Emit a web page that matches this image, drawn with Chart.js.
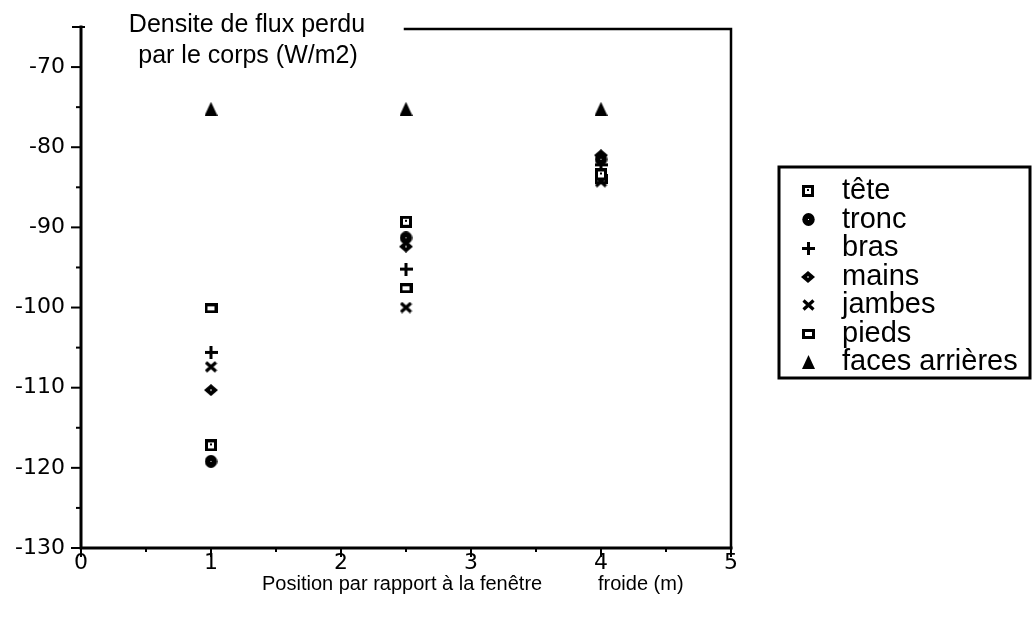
<!DOCTYPE html>
<html><head><meta charset="utf-8">
<script src="https://cdn.jsdelivr.net/npm/chart.js@4/dist/chart.umd.min.js"></script>
<style>html,body{margin:0;padding:0;background:#fff}canvas{display:block}</style>
</head><body>
<canvas id="c" width="1036" height="629"></canvas>
<script>
// ---- data ----
const positions = [1, 2.5, 4];
const seriesNames = ['tête', 'tronc', 'bras', 'mains', 'jambes', 'pieds', 'faces arrières'];
const tete = [-117.2, -89.3, -83.4];
const tronc = [-119.2, -91.3, -81.5];
const bras = [-105.6, -95.2, -82.2];
const mains = [-110.3, -92.4, -81.0];
const jambes = [-107.4, -100.0, -84.3];
const pieds = [-100.1, -97.6, -84.0];
const facesArrieres = [-75.2, -75.2, -75.2];
const xTickValues = [0, 0.5, 1, 1.5, 2, 2.5, 3, 3.5, 4, 4.5, 5];
const yTickValues = [-130, -125, -120, -115, -110, -105, -100, -95, -90, -85, -80, -75, -70, -65];
const titleLines = ['Densite de flux perdu', 'par le corps (W/m2)'];
const xTitleParts = ['Position par rapport à la fenêtre', 'froide (m)'];

const FONT = '"Liberation Sans", Arial, Helvetica, sans-serif';
const TICKFONT = '"DejaVu Sans", "Liberation Sans", sans-serif';

// ---- marker glyphs ----
function mk(w, h, draw) {
  const c = document.createElement('canvas');
  c.width = w; c.height = h;
  const g = c.getContext('2d');
  g.fillStyle = '#000'; g.strokeStyle = '#000';
  draw(g);
  return c;
}
const mTete = mk(12, 12, g => { g.fillRect(0, 0, 12, 12); g.fillStyle = '#fff'; g.fillRect(3, 3, 6, 6); g.fillStyle = '#000'; g.fillRect(5, 4, 2, 2); });
const mTronc = mk(13, 13, g => { g.beginPath(); g.ellipse(6.5, 6.5, 6.2, 6.5, 0, 0, 2 * Math.PI); g.fill(); g.fillStyle = '#fff'; g.fillRect(6, 6, 1, 1); });
const mBras = mk(13, 13, g => { g.fillRect(0, 5, 13, 3); g.fillRect(5, 0, 3, 13); });
const mMains = mk(14, 12, g => { g.beginPath(); g.moveTo(7, 0); g.lineTo(14, 6); g.lineTo(7, 12); g.lineTo(0, 6); g.closePath(); g.fill(); g.fillStyle = '#fff'; g.fillRect(6, 5.5, 2, 1); });
const mJambes = mk(13, 12, g => { g.lineWidth = 3.2; g.beginPath(); g.moveTo(1.5, 1.5); g.lineTo(11.5, 10.5); g.moveTo(11.5, 1.5); g.lineTo(1.5, 10.5); g.stroke(); });
const mPieds = mk(13, 10, g => { g.fillRect(0, 0, 13, 10); g.fillStyle = '#fff'; g.fillRect(3, 3, 7, 4); });
const mFaces = mk(13, 14, g => { g.beginPath(); g.moveTo(6.5, 0); g.lineTo(13, 14); g.lineTo(0, 14); g.closePath(); g.fill(); });

const seriesValues = [tete, tronc, bras, mains, jambes, pieds, facesArrieres];
const seriesMarkers = [mTete, mTronc, mBras, mMains, mJambes, mPieds, mFaces];

const datasets = seriesNames.map((name, i) => ({
  label: name,
  data: positions.map((p, j) => ({ x: p, y: seriesValues[i][j] })),
  pointStyle: seriesMarkers[i],
  pointRadius: 6,
  showLine: false
}));

// ---- decoration plugin: frame, ticks, titles, legend ----
const decor = {
  id: 'decor',
  afterDraw(chart) {
    const { ctx, chartArea: { left, right, top, bottom }, scales: { x, y } } = chart;
    ctx.save();
    ctx.strokeStyle = '#000';
    ctx.fillStyle = '#000';
    ctx.lineCap = 'square';
    // axis lines / frame
    ctx.lineWidth = 3;
    ctx.beginPath();
    ctx.moveTo(left, top); ctx.lineTo(left, bottom); ctx.lineTo(right, bottom);
    ctx.stroke();
    ctx.lineWidth = 2.5;
    ctx.beginPath();
    ctx.moveTo(405, top + 2); ctx.lineTo(right, top + 2); ctx.lineTo(right, bottom);
    ctx.stroke();
    // y ticks
    ctx.lineWidth = 2;
    ctx.lineCap = 'butt';
    y.ticks.forEach(t => {
      const py = y.getPixelForValue(t.value);
      ctx.beginPath();
      if (t.value === y.max) { ctx.moveTo(left - 9, py); ctx.lineTo(left + 4, py); }
      else if (t.value % 10 === 0) { ctx.moveTo(left - 10, py); ctx.lineTo(left, py); }
      else { ctx.moveTo(left - 5, py); ctx.lineTo(left, py); }
      ctx.stroke();
    });
    // x ticks
    x.ticks.forEach(t => {
      const px = x.getPixelForValue(t.value);
      ctx.beginPath();
      ctx.moveTo(px, bottom);
      ctx.lineTo(px, bottom + (Number.isInteger(t.value) ? 9 : 4));
      ctx.stroke();
    });
    // y title (top-left)
    ctx.font = '25px ' + FONT;
    ctx.textAlign = 'center';
    ctx.textBaseline = 'alphabetic';
    ctx.fillText(titleLines[0], 247, 32);
    ctx.fillText(titleLines[1], 248, 63);
    // x title
    ctx.font = '20px ' + FONT;
    ctx.textAlign = 'left';
    ctx.fillText(xTitleParts[0], 262, 590);
    ctx.fillText(xTitleParts[1], 598, 590);
    // legend
    const lx = 779, ly = 167, lw = 251, lh = 211;
    ctx.lineWidth = 3;
    ctx.strokeRect(lx, ly, lw, lh);
    ctx.font = '29px ' + FONT;
    ctx.textAlign = 'left';
    chart.data.datasets.forEach((ds, i) => {
      const base = 199 + i * 28.5;
      const m = ds.pointStyle;
      ctx.drawImage(m, Math.round(808 - m.width / 2), Math.round(base - 8 - m.height / 2));
      ctx.fillText(ds.label, 842, base);
    });
    ctx.restore();
  }
};

new Chart(document.getElementById('c'), {
  type: 'scatter',
  data: { datasets },
  options: {
    responsive: false,
    animation: false,
    devicePixelRatio: 1,
    layout: { padding: { left: 0, top: 26, right: 305, bottom: 0 } },
    plugins: { legend: { display: false }, title: { display: false }, tooltip: { enabled: false } },
    scales: {
      x: {
        type: 'linear', min: 0, max: 5,
        afterBuildTicks: s => { s.ticks = xTickValues.map(v => ({ value: v })); },
        afterFit: s => { s.height = 81; },
        grid: { display: false, drawTicks: false },
        border: { display: false },
        ticks: {
          autoSkip: false, maxRotation: 0, padding: 4, color: '#000',
          font: { family: TICKFONT, size: 22, lineHeight: 1 },
          callback: v => Number.isInteger(v) ? String(v) : ''
        }
      },
      y: {
        type: 'linear', min: -130, max: -65,
        afterBuildTicks: s => { s.ticks = yTickValues.map(v => ({ value: v })); },
        afterFit: s => { s.width = 81; },
        grid: { display: false, drawTicks: false },
        border: { display: false },
        ticks: {
          autoSkip: false, padding: 16, color: '#000',
          font: { family: TICKFONT, size: 22, lineHeight: 1 },
          callback: v => (v % 10 === 0 && v <= -70) ? String(v) : ''
        }
      }
    }
  },
  plugins: [decor]
});
</script>
</body></html>
